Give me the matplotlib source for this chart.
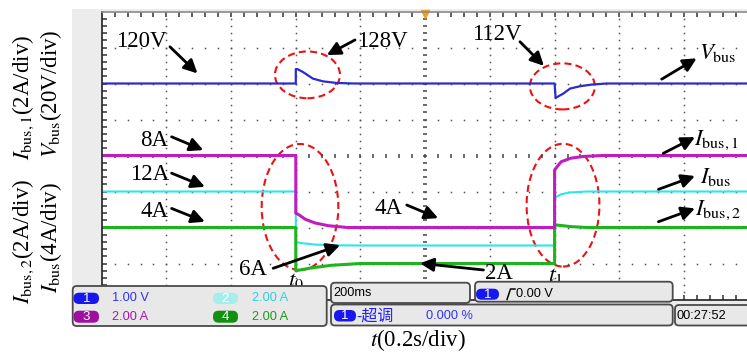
import numpy as np
import matplotlib
matplotlib.use("Agg")
import matplotlib.pyplot as plt
from matplotlib.patches import Ellipse, FancyBboxPatch, Rectangle
from matplotlib.markers import TICKDOWN, TICKUP, TICKRIGHT

plt.rcParams['font.family'] = ['Liberation Serif', 'DejaVu Serif']
plt.rcParams['mathtext.fontset'] = 'stix'

# ---- scope settings ----
SEC_PER_DIV = 0.2
N_HDIV, N_VDIV = 10, 8
V_PER_DIV = 20.0      # V_bus
I1_PER_DIV = 2.0      # I_bus,1
I_PER_DIV = 4.0       # I_bus
I2_PER_DIV = 2.0      # I_bus,2

# ---- traces (time in s, values in V / A) ----
t_vbus = [0.0, 0.600, 0.600, 0.605, 0.622, 0.653, 0.684, 0.726, 0.78,
          1.400, 1.403, 1.427, 1.448, 1.479, 1.515, 1.56, 2.0]
v_bus = [120, 120, 128, 128, 126.4, 122.7, 121.2, 120.3, 120,
         120, 112, 114.4, 117.2, 118.5, 119.4, 120, 120]

t_ibus1 = [0.0, 0.6, 0.6, 0.61, 0.63, 0.66, 0.70, 0.76,
           1.4, 1.4, 1.42, 1.45, 1.49, 1.55, 2.0]
i_bus1 = [8, 8, 4.8, 4.7, 4.45, 4.25, 4.1, 4.0,
          4.0, 7.2, 7.65, 7.85, 7.95, 8.0, 8.0]

t_ibus = [0.0, 0.6, 0.6, 0.62, 0.66, 0.72, 0.8, 1.4, 1.4, 1.42, 1.45, 1.5, 2.0]
i_bus = [12, 12, 6.4, 6.25, 6.1, 6.02, 6.0, 6.0, 11.3, 11.7, 11.9, 12.0, 12.0]

t_ibus2 = [0.0, 0.6, 0.6, 0.65, 0.71, 0.8, 1.4, 1.4, 1.45, 1.5, 2.0]
i_bus2 = [4, 4, 1.6, 1.76, 1.9, 2.0, 2.0, 4.15, 4.05, 4.0, 4.0]

W, H = 747, 354
fig = plt.figure(figsize=(W / 100, H / 100), dpi=100)

# background of the scope screen (pixel coordinates)
bg = fig.add_axes([0, 0, 1, 1], zorder=0)
bg.set_xlim(0, W); bg.set_ylim(H, 0); bg.axis('off')
bg.add_patch(Rectangle((71.7, 9), W - 71.7, 317, facecolor='#ececec', edgecolor='none'))

# graticule axes
x0, y_top, y_bot, w_px = 101.7, 11.5, 299.5, 647.0
ax = fig.add_axes([x0 / W, (H - y_bot) / H, w_px / W, (y_bot - y_top) / H], zorder=1)
ax.set_xlim(0, N_HDIV * SEC_PER_DIV)
ax.set_ylim(0, N_VDIV)
ax.set_facecolor('white')
ax.set_xticks([]); ax.set_yticks([])
ax.spines['right'].set_visible(False)
ax.spines['left'].set_color('#222222'); ax.spines['left'].set_linewidth(1.2)
ax.spines['bottom'].set_color('#222222'); ax.spines['bottom'].set_linewidth(1.2)
ax.spines['top'].set_color('#8a8a8a'); ax.spines['top'].set_linewidth(1.2)

dot_kw = dict(ls='none', marker='s', ms=1.1, color='#555555', mew=0)
xmax = N_HDIV * SEC_PER_DIV
sub_y = np.arange(1, N_VDIV * 5) * 0.2
sub_x = np.arange(1, N_HDIV * 5) * SEC_PER_DIV / 5
for i in range(1, N_HDIV):
    if i == N_HDIV // 2:
        continue
    ax.plot(np.full_like(sub_y, i * SEC_PER_DIV), sub_y, **dot_kw)
for j in range(1, N_VDIV):
    if j == N_VDIV // 2:
        continue
    ax.plot(sub_x, np.full_like(sub_x, j), **dot_kw)
# centre axes with minor tick marks
ax.plot(np.full_like(sub_y, xmax / 2), sub_y, ls='none', marker='_', ms=3.5, mew=1.1, color='#444444')
ax.plot(sub_x, np.full_like(sub_x, N_VDIV / 2), ls='none', marker='|', ms=3.5, mew=1.1, color='#444444')
# border ticks
ax.plot(sub_x, np.full_like(sub_x, N_VDIV), ls='none', marker=TICKDOWN, ms=3.5, mew=1.1, color='#333333', clip_on=False)
ax.plot(sub_x, np.zeros_like(sub_x), ls='none', marker=TICKUP, ms=3.5, mew=1.1, color='#333333', clip_on=False)
ax.plot(np.zeros_like(sub_y), sub_y, ls='none', marker=TICKRIGHT, ms=3.5, mew=1.1, color='#333333', clip_on=False)
# trigger position marker
ax.plot([xmax / 2], [N_VDIV - 0.08], marker='v', ms=6, color='#f0a020', mec='#f0a020', clip_on=False)

# traces (converted to screen divisions)
ax.plot(t_ibus, np.array(i_bus) / I_PER_DIV, color='#2ee4f2', lw=1.5)
ax.plot(t_ibus2, np.array(i_bus2) / I2_PER_DIV, color='#1db41d', lw=2.2)
ax.plot(t_ibus1, np.array(i_bus1) / I1_PER_DIV, color='#c01cc0', lw=2.2)
ax.plot(t_vbus, np.array(v_bus) / V_PER_DIV, color='#2b2bd0', lw=1.6)

# highlighted transients
ell_kw = dict(fill=False, ec='#ee1111', lw=1.5, ls=(0, (3.4, 2.0)), clip_on=False)
ax.add_patch(Ellipse((0.636, 6.24), 0.201, 1.30, **ell_kw))
ax.add_patch(Ellipse((1.424, 5.92), 0.201, 1.28, **ell_kw))
ax.add_patch(Ellipse((0.613, 2.57), 0.237, 3.50, **ell_kw))
ax.add_patch(Ellipse((1.426, 2.62), 0.225, 3.41, **ell_kw))

# annotations
FS = 16.5
arw = dict(arrowstyle='-|>', color='black', lw=2.0, mutation_scale=20, shrinkA=0, shrinkB=0)


def note(text, xy_text, xy_tail, xy_head, ha='center'):
    ax.text(*xy_text, text, fontsize=FS, ha=ha, va='center', zorder=6, clip_on=False)
    if xy_tail is not None:
        ax.annotate('', xy=xy_head, xytext=xy_tail, arrowprops=arw, annotation_clip=False, zorder=6)


note('120V', (0.123, 7.18), (0.211, 7.02), (0.296, 6.28))
note('128V', (0.868, 7.18), (0.783, 7.21), (0.696, 6.79))
note('112V', (1.221, 7.37), (1.293, 7.16), (1.367, 6.49))
note(r'$V_{\mathrm{bus}}$', (1.846, 6.86), (1.731, 6.12), (1.839, 6.70), ha='left')
note('8A', (0.162, 4.43), (0.216, 4.52), (0.314, 4.15))
note('12A', (0.149, 3.46), (0.216, 3.51), (0.319, 3.13))
note('4A', (0.162, 2.44), (0.216, 2.53), (0.319, 2.16))
note('6A', (0.466, 0.82), (0.530, 0.867), (0.737, 1.51))
note(r'$t_0$', (0.601, 0.52), None, None)
note('4A', (0.888, 2.53), (0.943, 2.625), (1.040, 2.26))
note('2A', (1.228, 0.71), (1.180, 0.82), (0.984, 1.006))
note(r'$t_1$', (1.401, 0.66), None, None)
note(r'$I_{\mathrm{bus,1}}$', (1.830, 4.43), (1.736, 4.06), (1.834, 4.51), ha='left')
note(r'$I_{\mathrm{bus}}$', (1.850, 3.39), (1.721, 3.06), (1.834, 3.43), ha='left')
note(r'$I_{\mathrm{bus,2}}$', (1.833, 2.49), (1.721, 2.16), (1.834, 2.53), ha='left')

# overlay: status panels and axis captions (pixel coordinates)
ov = fig.add_axes([0, 0, 1, 1], zorder=3)
ov.set_xlim(0, W); ov.set_ylim(H, 0); ov.axis('off')
ov.patch.set_alpha(0)

pan_kw = dict(boxstyle='round,pad=0,rounding_size=4', facecolor='#e8e8e8', edgecolor='#4a4a4a', lw=1.3)
ov.add_patch(FancyBboxPatch((72.7, 286), 254, 40, **pan_kw))
ov.add_patch(FancyBboxPatch((331, 282.7), 139, 20.3, **pan_kw))
ov.add_patch(FancyBboxPatch((475, 281.7), 197.7, 20, **pan_kw))
ov.add_patch(FancyBboxPatch((331, 304.5), 341.7, 21, **pan_kw))
ov.add_patch(FancyBboxPatch((675, 305), 90, 20.5, **pan_kw))

SCOPE_FONT = ['Liberation Sans Narrow', 'Liberation Sans', 'Noto Sans CJK SC', 'DejaVu Sans']


def badge(x, y, w, h, num, fc, tc='white'):
    ov.add_patch(FancyBboxPatch((x, y), w, h, boxstyle='round,pad=0,rounding_size=5.5',
                                facecolor=fc, edgecolor='none'))
    ov.text(x + w / 2, y + h / 2 + 0.5, num, color=tc, fontsize=9.5, ha='center', va='center',
            family=SCOPE_FONT)


def stext(x, y, s, color, fs=9.2):
    ov.text(x, y, s, color=color, fontsize=fs, ha='left', va='center', family=SCOPE_FONT)


badge(73.5, 292.7, 25.5, 11.3, '1', '#1717ee')
badge(213, 292.7, 25, 11.3, '2', '#a6eeee')
badge(73.5, 310.7, 25.5, 12, '3', '#a010a0')
badge(213, 310.7, 25, 12, '4', '#119011')
stext(111.7, 298, '1.00 V', '#3030ff')
stext(251.7, 298, '2.00 A', '#2ed0e2')
stext(111.7, 316.7, '2.00 A', '#b010b0')
stext(251.7, 316.7, '2.00 A', '#1a9a1a')

stext(333.5, 293, '200ms', 'black')
badge(476, 288.7, 23, 11, '1', '#1717ee')
ov.plot([507, 510.5, 515], [299.5, 289, 289], color='black', lw=1.1)
stext(516.5, 294, '0.00 V', 'black')

badge(334, 310, 22, 11.5, '1', '#1717ee')
stext(356.5, 315.7, '-超调', '#2020ff', fs=11.5)
stext(425.6, 315.7, '0.000 %', '#3030ff')
stext(676.5, 315.7, '00:27:52', 'black')

ov.text(418, 340, r'$t$(0.2s/div)', fontsize=16.5, ha='center', va='center')

ov.text(23.3, 97, r'$I_{\mathrm{bus,1}}$(2A/div)', fontsize=16.5, rotation=90, ha='center', va='center')
ov.text(51, 94, r'$V_{\mathrm{bus}}$(20V/div)', fontsize=16.5, rotation=90, ha='center', va='center')
ov.text(23.3, 241, r'$I_{\mathrm{bus,2}}$(2A/div)', fontsize=16.5, rotation=90, ha='center', va='center')
ov.text(51, 238, r'$I_{\mathrm{bus}}$(4A/div)', fontsize=16.5, rotation=90, ha='center', va='center')

fig.savefig('out.png', dpi=100)
